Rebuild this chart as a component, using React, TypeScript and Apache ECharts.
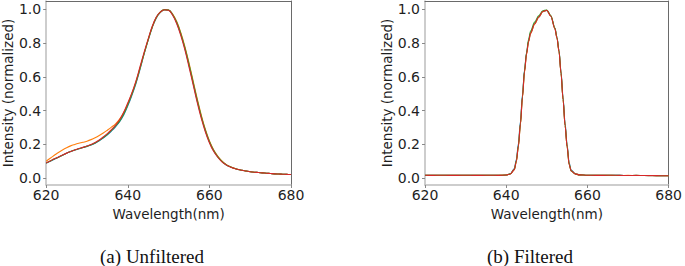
import React, { useEffect, useRef } from "react";
import * as echarts from "echarts";

// ---------- Data ----------
const seriesNames = ["Spectrum 1", "Spectrum 2", "Spectrum 3", "Spectrum 4"];
const seriesColors = ["#1f77b4", "#ff7f0e", "#2ca02c", "#d62728"];
const xTicks = [620, 640, 660, 680];
const yTicks = [0, 0.2, 0.4, 0.6, 0.8, 1.0];
const captions = ["(a) Unfiltered", "(b) Filtered"];

// (a) Unfiltered — wavelength grid (nm)
const wlUnf = [
  620, 621, 622, 623, 624, 625, 626, 627, 628, 629,
  630, 631, 632, 633, 634, 635, 636, 637, 638, 639,
  640, 641, 642, 643, 644, 645, 646, 647, 648, 649,
  650, 651, 652, 653, 654, 655, 656, 657, 658, 659,
  660, 661, 662, 663, 664, 665, 666, 667, 668, 669,
  670, 671, 672, 673, 674, 675, 676, 677, 678, 679, 680,
];
const unfBlue = [
  0.088, 0.100, 0.112, 0.124, 0.136, 0.147, 0.157, 0.166, 0.174, 0.181,
  0.188, 0.196, 0.207, 0.221, 0.238, 0.257, 0.279, 0.304, 0.334, 0.374,
  0.428, 0.490, 0.560, 0.645, 0.735, 0.818, 0.893, 0.950, 0.983, 0.997,
  0.996, 0.968, 0.920, 0.852, 0.768, 0.670, 0.565, 0.460, 0.364, 0.282,
  0.215, 0.164, 0.128, 0.100, 0.081, 0.068, 0.058, 0.051, 0.046, 0.042,
  0.038, 0.035, 0.033, 0.031, 0.029, 0.027, 0.025, 0.024, 0.023, 0.022, 0.021,
];
const unfOrange = [
  0.100, 0.118, 0.135, 0.152, 0.167, 0.180, 0.191, 0.199, 0.206, 0.212,
  0.219, 0.228, 0.239, 0.252, 0.267, 0.284, 0.302, 0.322, 0.350, 0.388,
  0.440, 0.500, 0.570, 0.652, 0.738, 0.820, 0.895, 0.952, 0.984, 0.998,
  0.997, 0.972, 0.928, 0.862, 0.780, 0.683, 0.578, 0.472, 0.375, 0.290,
  0.222, 0.170, 0.132, 0.103, 0.083, 0.069, 0.059, 0.052, 0.046, 0.042,
  0.038, 0.035, 0.033, 0.031, 0.029, 0.027, 0.025, 0.024, 0.023, 0.022, 0.021,
];
const unfGreen = [
  0.089, 0.101, 0.113, 0.124, 0.136, 0.147, 0.157, 0.166, 0.174, 0.181,
  0.188, 0.197, 0.208, 0.223, 0.240, 0.260, 0.283, 0.309, 0.338, 0.380,
  0.434, 0.496, 0.566, 0.650, 0.738, 0.820, 0.896, 0.952, 0.985, 0.999,
  0.997, 0.970, 0.924, 0.857, 0.773, 0.676, 0.570, 0.465, 0.368, 0.285,
  0.217, 0.166, 0.129, 0.101, 0.081, 0.068, 0.058, 0.051, 0.046, 0.042,
  0.038, 0.035, 0.033, 0.031, 0.029, 0.027, 0.025, 0.024, 0.023, 0.022, 0.021,
];
const unfRed = [
  0.090, 0.102, 0.114, 0.125, 0.137, 0.148, 0.158, 0.167, 0.175, 0.182,
  0.190, 0.199, 0.211, 0.226, 0.244, 0.264, 0.287, 0.314, 0.346, 0.390,
  0.445, 0.505, 0.575, 0.660, 0.745, 0.825, 0.900, 0.955, 0.985, 0.998,
  0.995, 0.965, 0.915, 0.845, 0.760, 0.660, 0.555, 0.450, 0.355, 0.275,
  0.210, 0.160, 0.125, 0.098, 0.080, 0.067, 0.058, 0.051, 0.046, 0.042,
  0.038, 0.035, 0.033, 0.031, 0.029, 0.027, 0.025, 0.024, 0.023, 0.022, 0.021,
];

// (b) Filtered — wavelength grid (nm)
const wlFilt = [
  620, 622, 624, 626, 628, 630, 632, 634, 636, 638, 640,
  641, 642, 642.5, 643, 643.5, 644, 644.5, 645, 645.5, 646,
  647, 648, 649, 650, 651, 652,
  652.5, 653, 653.5, 654, 654.5, 655, 655.5, 656,
  657, 658,
  660, 662, 664, 666, 668, 670, 672, 674, 676, 678, 680,
];
const filtBlue = [
  0.016, 0.017, 0.016, 0.016, 0.017, 0.016, 0.016, 0.017, 0.016, 0.016, 0.018,
  0.026, 0.056, 0.110, 0.205, 0.335, 0.495, 0.640, 0.740, 0.812, 0.860,
  0.914, 0.954, 0.987, 0.994, 0.960, 0.887,
  0.834, 0.756, 0.630, 0.478, 0.325, 0.198, 0.090, 0.047,
  0.026, 0.019,
  0.017, 0.016, 0.016, 0.016, 0.016, 0.015, 0.015, 0.015, 0.014, 0.014, 0.014,
];
const filtOrange = [
  0.017, 0.016, 0.016, 0.017, 0.016, 0.016, 0.017, 0.016, 0.016, 0.017, 0.018,
  0.024, 0.049, 0.098, 0.186, 0.316, 0.476, 0.626, 0.732, 0.808, 0.858,
  0.913, 0.954, 0.987, 0.995, 0.961, 0.886,
  0.831, 0.751, 0.622, 0.466, 0.312, 0.186, 0.081, 0.043,
  0.025, 0.019,
  0.017, 0.016, 0.016, 0.016, 0.015, 0.016, 0.015, 0.015, 0.014, 0.014, 0.014,
];
const filtGreen = [
  0.016, 0.016, 0.017, 0.016, 0.016, 0.017, 0.016, 0.016, 0.017, 0.016, 0.018,
  0.025, 0.051, 0.102, 0.192, 0.322, 0.484, 0.636, 0.745, 0.822, 0.872,
  0.925, 0.962, 0.992, 0.997, 0.963, 0.889,
  0.834, 0.754, 0.624, 0.468, 0.313, 0.187, 0.082, 0.043,
  0.025, 0.019,
  0.017, 0.016, 0.016, 0.017, 0.016, 0.015, 0.016, 0.015, 0.015, 0.014, 0.014,
];
const filtRed = [
  0.017, 0.016, 0.017, 0.016, 0.016, 0.017, 0.016, 0.016, 0.017, 0.016, 0.018,
  0.024, 0.050, 0.100, 0.190, 0.320, 0.480, 0.630, 0.735, 0.810, 0.860,
  0.915, 0.955, 0.988, 0.995, 0.960, 0.885,
  0.830, 0.750, 0.620, 0.465, 0.310, 0.185, 0.080, 0.042,
  0.025, 0.019,
  0.017, 0.016, 0.016, 0.017, 0.016, 0.015, 0.016, 0.015, 0.015, 0.014, 0.014,
];

const unfSeries = [unfBlue, unfOrange, unfGreen, unfRed];
const filtSeries = [filtBlue, filtOrange, filtGreen, filtRed];

// ---------- Styling ----------
const FONT = "DejaVu Sans";
const TXT = "#1e1e1e";
const Y_MIN = -0.041;
const Y_MAX = 1.05;

function buildOption() {
  const grids = [
    { left: 43, top: 1, width: 248, height: 184 },
    { left: 425, top: 1, width: 247, height: 184 },
  ];

  const xAxes: any[] = [];
  const yAxes: any[] = [];
  grids.forEach((_, gi) => {
    xAxes.push({
      type: "value",
      gridIndex: gi,
      min: 620,
      max: 680,
      interval: 20,
      position: "bottom",
      name: "Wavelength(nm)",
      nameLocation: "middle",
      nameGap: 18,
      nameTextStyle: { fontFamily: FONT, fontSize: 13.5, color: TXT },
      axisLine: { show: true, onZero: false, lineStyle: { color: "#bdbdbd", width: 1.5 } },
      axisTick: { show: true, length: 3, lineStyle: { color: "#888" } },
      axisLabel: {
        fontFamily: FONT,
        fontSize: 14,
        color: TXT,
        margin: 3,
        customValues: xTicks,
      },
      splitLine: { show: false },
    });
    xAxes.push({
      type: "value",
      gridIndex: gi,
      min: 620,
      max: 680,
      position: "top",
      axisLine: { show: true, onZero: false, lineStyle: { color: "#6a6a6a", width: 1 } },
      axisTick: { show: false },
      axisLabel: { show: false },
      splitLine: { show: false },
    });
    yAxes.push({
      type: "value",
      gridIndex: gi,
      min: Y_MIN,
      max: Y_MAX,
      position: "left",
      name: "Intensity (normalized)",
      nameLocation: "middle",
      nameGap: 30,
      nameTextStyle: { fontFamily: FONT, fontSize: 13.5, color: TXT },
      axisLine: { show: true, onZero: false, lineStyle: { color: "#bdbdbd", width: 1.5 } },
      axisTick: { show: true, length: 3, lineStyle: { color: "#888" }, customValues: yTicks },
      axisLabel: {
        fontFamily: FONT,
        fontSize: 14,
        color: TXT,
        margin: 5,
        customValues: yTicks,
        formatter: (v: number) => v.toFixed(1),
      },
      splitLine: { show: false },
    });
    yAxes.push({
      type: "value",
      gridIndex: gi,
      min: Y_MIN,
      max: Y_MAX,
      position: "right",
      axisLine: { show: true, onZero: false, lineStyle: { color: "#6a6a6a", width: 1 } },
      axisTick: { show: false },
      axisLabel: { show: false },
      splitLine: { show: false },
    });
  });

  const series: any[] = [];
  unfSeries.forEach((vals, i) => {
    series.push({
      name: seriesNames[i],
      type: "line",
      xAxisIndex: 0,
      yAxisIndex: 0,
      data: wlUnf.map((w, k) => [w, vals[k]]),
      showSymbol: false,
      smooth: 0.4,
      lineStyle: { color: seriesColors[i], width: 1.1 },
      itemStyle: { color: seriesColors[i] },
      z: 2 + i,
    });
  });
  filtSeries.forEach((vals, i) => {
    series.push({
      name: seriesNames[i],
      type: "line",
      xAxisIndex: 2,
      yAxisIndex: 2,
      data: wlFilt.map((w, k) => [w, vals[k]]),
      showSymbol: false,
      smooth: 0.3,
      smoothMonotone: "x",
      lineStyle: { color: seriesColors[i], width: 1.1 },
      itemStyle: { color: seriesColors[i] },
      z: 2 + i,
    });
  });

  const capStyle = {
    fontFamily: "Liberation Serif",
    fontSize: 19,
    fill: "#111",
    align: "center",
    verticalAlign: "middle",
  };

  return {
    animation: false,
    backgroundColor: "#ffffff",
    grid: grids,
    xAxis: xAxes,
    yAxis: yAxes,
    series,
    graphic: [
      { type: "text", x: 152, y: 256, style: { ...capStyle, text: captions[0] } },
      { type: "text", x: 530, y: 256, style: { ...capStyle, text: captions[1] } },
    ],
  };
}

export default function App() {
  const ref = useRef<HTMLDivElement>(null);
  useEffect(() => {
    if (!ref.current) return;
    const chart = echarts.init(ref.current, null, { renderer: "svg" });
    chart.setOption(buildOption() as any);
    return () => chart.dispose();
  }, []);
  return (
    <div
      ref={ref}
      style={{ position: "fixed", left: 0, top: 0, width: 685, height: 266, background: "#fff" }}
    />
  );
}
